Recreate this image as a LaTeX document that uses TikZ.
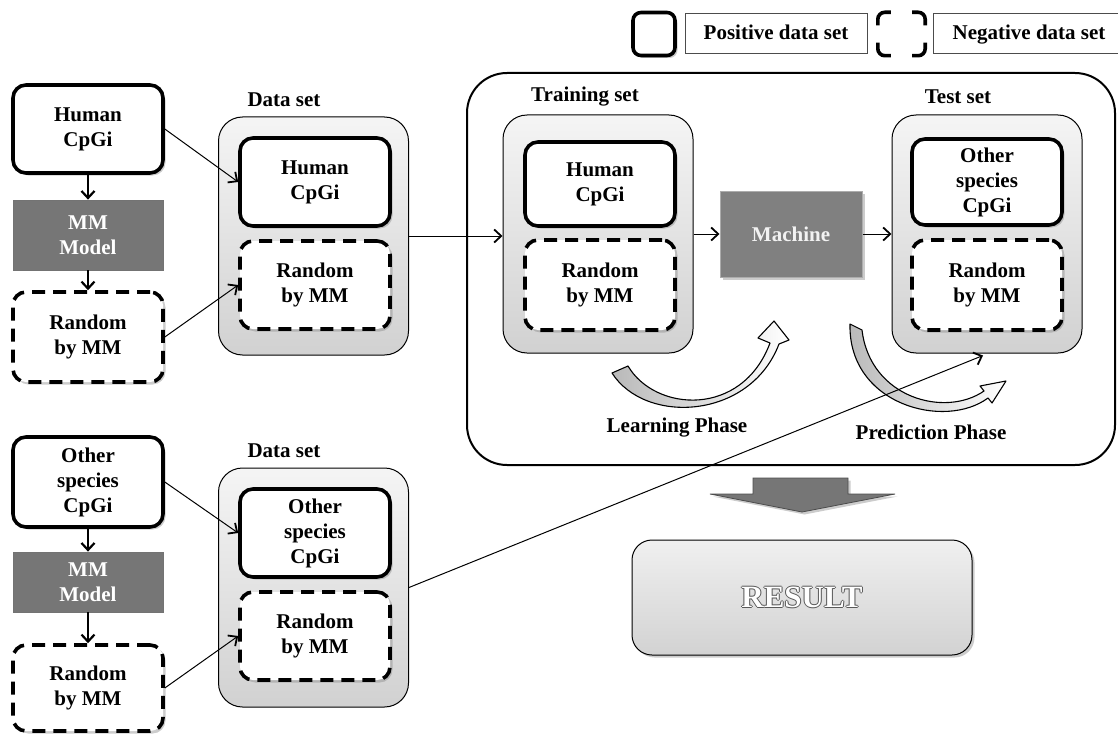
\documentclass[tikz,border=0pt]{standalone}
\usepackage{fontspec}
\setmainfont{Liberation Serif}
\usetikzlibrary{arrows.meta,shadows}

% white lettering with a dark rim
\newcommand\ringtext[1]{\leavevmode
  \rlap{\kern-1pt\color{black!65}#1}%
  \rlap{\kern1pt\color{black!65}#1}%
  \rlap{\raisebox{1pt}{\color{black!65}#1}}%
  \rlap{\raisebox{-1pt}{\color{black!65}#1}}%
  {\color{white}#1}}

\definecolor{mmgray}{HTML}{767676}
\definecolor{machgray}{HTML}{808080}

\begin{document}
\begin{tikzpicture}[x=1pt,y=-1pt,
  txt/.style={font=\fontsize{21}{25}\selectfont\bfseries, align=center},
  shade/.style={drop shadow={opacity=0.4,shadow xshift=2.5pt,shadow yshift=-2.5pt}},
  posbox/.style={txt, draw, line width=3.6pt, rounded corners=13pt, fill=white,
    minimum width=150pt, minimum height=88pt, inner sep=2pt, shade},
  negbox/.style={posbox, dash pattern=on 13pt off 8pt},
  mmbox/.style={txt, draw=black!55, line width=0.8pt, fill=mmgray, text=white,
    minimum width=150pt, minimum height=70pt, inner sep=2pt},
  setbox/.style={draw, line width=1pt, rounded corners=24pt,
    top color=gray!8, bottom color=gray!36,
    minimum width=190pt, minimum height=238pt},
  heading/.style={txt},
  legtxt/.style={txt, draw=black!70, line width=0.8pt, minimum height=40pt,
    text height=15pt, text depth=1pt},
  arr/.style={line width=1pt, -{Straight Barb[length=7pt,width=13pt,line width=1.8pt]}},
  darr/.style={line width=1.6pt, -{Straight Barb[length=7pt,width=13pt,line width=2.2pt]}},
  curl/.style={draw, line width=1.1pt, line join=round},
]
\useasboundingbox (0,0) rectangle (1118,733);

% ---------- legend ----------
\node[draw, line width=3.6pt, rounded corners=8pt, fill=white, minimum width=42pt,
      minimum height=43pt, shade] (lgpos) at (654,34) {};
\node[legtxt, minimum width=182pt] (lgpostxt) at (776,33) {Positive data set};
\node[minimum width=47pt, minimum height=43pt, inner sep=0pt] (lgneg) at (901.5,34) {};
\begin{scope}[line width=3.6pt, rounded corners=7pt]
  \draw ([yshift=-13pt]lgneg.north west) -- (lgneg.north west) -- ([xshift=13pt]lgneg.north west);
  \draw ([yshift=-13pt]lgneg.north east) -- (lgneg.north east) -- ([xshift=-13pt]lgneg.north east);
  \draw ([yshift=13pt]lgneg.south west) -- (lgneg.south west) -- ([xshift=13pt]lgneg.south west);
  \draw ([yshift=13pt]lgneg.south east) -- (lgneg.south east) -- ([xshift=-13pt]lgneg.south east);
\end{scope}
\node[legtxt, minimum width=192pt] (lgnegtxt) at (1029,33) {Negative data set};

% ---------- human source data ----------
\node[posbox] (hum1) at (88,129) {Human\\CpGi};
\node[mmbox]  (mm1)  at (88,235) {MM\\Model};
\node[negbox, minimum height=90pt] (rnd1) at (88,337) {Random\\by MM};

\node[heading] (ds1lbl) at (284,100) {Data set};
\node[setbox] (ds1) at (313.5,236) {};
\node[posbox] (ds1h) at (315,182) {Human\\CpGi};
\node[negbox] (ds1r) at (315,285) {Random\\by MM};

\draw[darr] (hum1.south) -- (mm1.north);
\draw[darr] (mm1.south) -- (rnd1.north);
\draw[arr] (hum1.east) -- (ds1h.west);
\draw[arr] (rnd1.east) -- (ds1r.west);

% ---------- other species source data ----------
\node[posbox, minimum height=90pt] (oth2) at (88,482) {Other\\species\\CpGi};
\node[mmbox, minimum height=60pt]  (mm2)  at (88,582) {MM\\Model};
\node[negbox, minimum height=86pt] (rnd2) at (88,688) {Random\\by MM};

\node[heading] (ds2lbl) at (284,451) {Data set};
\node[setbox, minimum height=239pt] (ds2) at (313.5,587.5) {};
\node[posbox] (ds2o) at (315,533) {Other\\species\\CpGi};
\node[negbox] (ds2r) at (315,636) {Random\\by MM};

\draw[darr] (oth2.south) -- (mm2.north);
\draw[darr] (mm2.south) -- (rnd2.north);
\draw[arr] (oth2.east) -- (ds2o.west);
\draw[arr] (rnd2.east) -- (ds2r.west);

% ---------- training / machine / test ----------
\node[draw, line width=2pt, rounded corners=40pt, minimum width=648pt,
      minimum height=392pt] (stage) at (791,269) {};

\node[heading] (trlbl) at (585,97) {Training set};
\node[setbox] (tr) at (598,234) {};
\node[posbox, minimum height=84pt] (trh) at (600,184) {Human\\CpGi};
\node[negbox, minimum height=90pt] (trr) at (600,285) {Random\\by MM};

\node[txt, fill=machgray, draw=gray!65, line width=1pt, text=gray!10,
      minimum width=142pt, minimum height=86pt, shade] (mach) at (791,234) {Machine};

\node[heading] (telbl) at (958,97) {Test set};
\node[setbox] (te) at (987,234) {};
\node[posbox, minimum height=86pt] (teo) at (987,182) {Other\\species\\CpGi};
\node[negbox, minimum height=90pt] (ter) at (987,285) {Random\\by MM};

\draw[arr] (ds1.east) -- (ds1.east -| tr.west);
\draw[arr] (tr.east) -- (tr.east -| mach.west);
\draw[arr] (mach.east) -- (mach.east -| te.west);

% learning phase curl
\path[curl, left color=gray!55, right color=white]
  (612,373) .. controls (645,425) and (750,420) .. (779,344)
  -- (789,340) -- (774,321) -- (758,338) -- (770,343)
  .. controls (742,418) and (655,412) .. (628,366) -- cycle;
\node[heading] (learn) at (677,428) {Learning Phase};

% prediction phase curl
\path[curl, left color=gray!55, right color=white]
  (850,324) .. controls (848,405) and (945,430) .. (988,398)
  -- (992,403) -- (1006,381) -- (980,386) -- (984,391)
  .. controls (945,418) and (870,398) .. (862,330) -- cycle;
\node[heading] (pred) at (931,432) {Prediction Phase};

% other species data go to the test set
\draw[arr] (ds2.east) -- ([xshift=-4pt,yshift=-2pt]te.south);

% ---------- result ----------
\draw[fill=mmgray, draw=black!70, line width=0.8pt, shade]
  (753,478) -- (848,478) -- (848,494) -- (895,494) -- (802,512)
  -- (710,494) -- (753,494) -- cycle;
\node[draw, line width=1pt, rounded corners=20pt, top color=gray!12, bottom color=gray!35,
      minimum width=340pt, minimum height=115pt, shade,
      font=\fontsize{31}{36}\selectfont\bfseries] (result) at (802,597.5) {\ringtext{RESULT}};
\end{tikzpicture}
\end{document}
